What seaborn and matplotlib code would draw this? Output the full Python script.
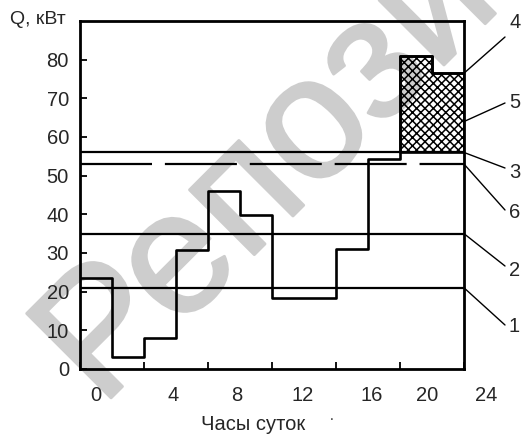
import matplotlib
matplotlib.use("Agg")
import matplotlib.pyplot as plt
import matplotlib.patheffects as pe
from matplotlib import font_manager
import seaborn as sns
import pandas as pd

# ---------------- data ----------------
hour_start = [0, 2, 4, 6, 8, 10, 12, 16, 18, 20, 22]
load_kw = [23.6, 3.0, 8.0, 30.7, 46.1, 39.7, 18.4, 31.0, 54.3, 81.0, 76.5]
day_end = 24

level_1 = 21.0   # line 1
level_2 = 35.0   # line 2
level_3 = 56.0   # line 3
level_6 = 53.0   # line 6 (dashed)
peak_from = 20   # hatched area (5) starts

y_ticks = [0, 10, 20, 30, 40, 50, 60, 70, 80]
x_ticks = [0, 4, 8, 12, 16, 20, 24]
x_tick_labels = ["0", "4", "8", "12", "16", "20", "24"]
# where the (shifted) hour labels sit in the printed figure
x_label_pos = [1.0, 5.8, 9.8, 13.9, 18.2, 21.7, 25.4]

callout_labels = ["4", "5", "3", "6", "2", "1"]
callout_values = [76.5, 64.0, level_3, level_6, level_2, level_1]

watermark = "Репозиторий"

# ---------------- style ----------------
sns.set_style("white")
plt.rcParams["font.family"] = ["Liberation Sans", "DejaVu Sans"]
plt.rcParams["hatch.linewidth"] = 1.1

W, H = 522, 434
fig = plt.figure(figsize=(W / 100, H / 100), dpi=100, facecolor="white")
ax = fig.add_axes([80 / W, (H - 369) / H, 384 / W, 348 / H])

# watermark
names = {f.name for f in font_manager.fontManager.ttflist}
if "Liberation Sans Narrow" in names:
    wm_family, wm_size, wm_xy = "Liberation Sans Narrow", 145, (110, 410)
else:
    wm_family, wm_size, wm_xy = "Liberation Sans", 125, (101, 408)
wm_color = "#cdcdcd"
ax.text(wm_xy[0] / W, (H - wm_xy[1]) / H, watermark,
        transform=fig.transFigure, rotation=45, rotation_mode="anchor",
        ha="left", va="baseline", fontsize=wm_size, fontweight="normal",
        color=wm_color, zorder=0, clip_on=False, family=wm_family,
        path_effects=[pe.withStroke(linewidth=2, foreground=wm_color)])

# step load curve
step_x = hour_start + [day_end]
step_y = load_kw + [load_kw[-1]]
df = pd.DataFrame({"hour": step_x, "load": step_y})
sns.lineplot(data=df, x="hour", y="load", drawstyle="steps-post",
             color="black", lw=1.9, estimator=None, ax=ax, zorder=3)

# hatched peak zone
peak = df[df["hour"] >= peak_from]
ax.fill_between(peak["hour"], level_3, peak["load"], step="post",
                facecolor="none", edgecolor="black", hatch="xxxx",
                lw=1.9, zorder=2)

# horizontal levels
for lv in (level_1, level_2, level_3):
    ax.axhline(lv, color="black", lw=1.6, zorder=3)
ax.axhline(level_6, color="black", lw=1.6, dashes=(32.4, 5.8), zorder=3)

ax.set_xlim(0, day_end)
ax.set_ylim(0, 90)
ax.set_yticks(y_ticks)
ax.set_yticklabels([str(v) for v in y_ticks], fontsize=14.5)
ax.set_xticks(x_ticks)
ax.set_xticklabels([])
ax.tick_params(axis="both", direction="in", length=5, width=1.3,
               color="black", pad=8, left=True, bottom=True)
ax.set_xlabel("")
ax.set_ylabel("")
for s in ax.spines.values():
    s.set_visible(True)
    s.set_color("black")
    s.set_linewidth(2.0)

# hour labels (printed offset from the tick marks)
xt = ax.get_xaxis_transform()
for pos, lab in zip(x_label_pos, x_tick_labels):
    ax.text(pos, -0.075, lab, transform=xt, ha="center", va="center",
            fontsize=14.5, clip_on=False)

fig.text(10 / W, (H - 19) / H, "Q, кВт", fontsize=14, ha="left", va="center")
fig.text(253 / W, (H - 424) / H, "Часы суток", fontsize=14.5, ha="center",
         va="center")
fig.text(332 / W, (H - 420) / H, ".", fontsize=10, ha="center", va="baseline")

# callouts on the right
callout_ends = [(505, 37), (505, 103), (505, 168), (505, 210), (505, 266), (505, 325)]
callout_text = [(509, 22), (509, 102), (509, 172), (509, 212), (509, 270), (509, 327)]
for lab, val, (ex, ey), (tx, ty) in zip(callout_labels, callout_values,
                                         callout_ends, callout_text):
    ax.annotate("", xy=(day_end, val), xycoords="data",
                xytext=(ex, H - ey), textcoords="figure pixels",
                arrowprops=dict(arrowstyle="-", lw=1.0, color="black",
                                shrinkA=0, shrinkB=0))
    fig.text(tx / W, (H - ty) / H, lab, fontsize=14.5, ha="left", va="center")

fig.savefig("out.png", dpi=100, facecolor="white")
